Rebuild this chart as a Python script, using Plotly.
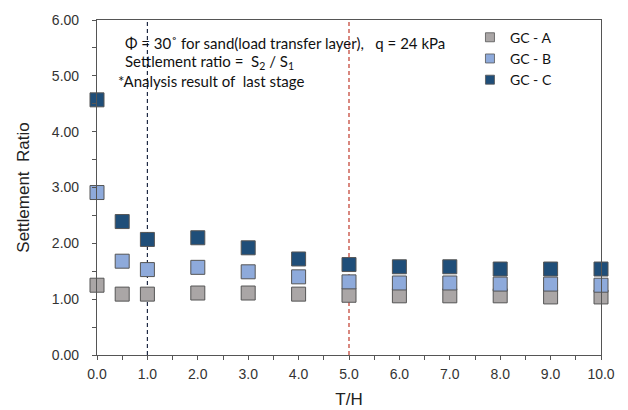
import plotly.graph_objects as go

# T/H positions
th = [0.0, 0.5, 1.0, 2.0, 3.0, 4.0, 5.0, 6.0, 7.0, 8.0, 9.0, 10.0]

# Settlement ratio S2/S1 for each geosynthetic-column case
gc_a = [1.25, 1.09, 1.09, 1.11, 1.11, 1.09, 1.07, 1.06, 1.06, 1.06, 1.04, 1.04]
gc_b = [2.91, 1.68, 1.53, 1.57, 1.49, 1.40, 1.31, 1.29, 1.29, 1.27, 1.27, 1.25]
gc_c = [4.57, 2.39, 2.07, 2.10, 1.92, 1.72, 1.62, 1.58, 1.58, 1.54, 1.54, 1.54]

series_names = ["GC - A", "GC - B", "GC - C"]
series_colors = ["#aaa6a6", "#8eaadb", "#1f4e79"]

y_ticks = [0, 1, 2, 3, 4, 5, 6]
y_tick_text = ["0.00", "1.00", "2.00", "3.00", "4.00", "5.00", "6.00"]
x_ticks = [0, 1, 2, 3, 4, 5, 6, 7, 8, 9, 10]
x_tick_text = ["0.0", "1.0", "2.0", "3.0", "4.0", "5.0", "6.0", "7.0", "8.0", "9.0", "10.0"]

ref_lines = [(1.0, "#1f2a44"), (5.0, "#c0392b")]

TEXT_FONT = "Lato, Open Sans, sans-serif"
AXIS_FONT = "Liberation Sans, Arial, sans-serif"

fig = go.Figure()

# dashed reference lines
for xv, col in ref_lines:
    fig.add_shape(type="line", xref="x", yref="paper", x0=xv, x1=xv, y0=0, y1=1,
                  line=dict(color=col, width=1.2, dash="4px,3px"), layer="below")

# data markers
for name, vals, col in zip(series_names, [gc_a, gc_b, gc_c], series_colors):
    fig.add_trace(go.Scatter(
        x=th, y=vals, mode="markers", name=name, showlegend=False,
        cliponaxis=False,
        marker=dict(symbol="square", size=14, color=col,
                    line=dict(color="#555555", width=1)),
    ))

# legend entries with small swatches
for name, col in zip(series_names, series_colors):
    fig.add_trace(go.Scatter(
        x=[None], y=[None], mode="markers", name=name,
        marker=dict(symbol="square", size=9, color=col,
                    line=dict(color="#555555", width=0.8)),
    ))

notes = [
    (0.52, 5.59, "Φ = 30˚ for sand(load transfer layer),   q = 24 kPa"),
    (0.52, 5.25, "Settlement ratio =  S<sub>2</sub> / S<sub>1</sub>"),
    (0.38, 4.91, "*Analysis result of  last stage"),
]
for xv, yv, txt in notes:
    fig.add_annotation(x=xv, y=yv, xref="x", yref="y", text=txt, showarrow=False,
                       xanchor="left", yanchor="middle",
                       font=dict(family=TEXT_FONT, size=15, color="#111111"))

axis_common = dict(showline=True, linecolor="#555555", linewidth=1.2, mirror=True,
                   ticks="outside", ticklen=4, tickcolor="#555555", showgrid=False,
                   zeroline=False, automargin=False,
                   tickfont=dict(family=AXIS_FONT, size=14, color="#333333"))

fig.update_xaxes(range=[0, 10], tickvals=x_ticks, ticktext=x_tick_text,
                 minor=dict(dtick=0.5, ticks="outside", ticklen=4, tickcolor="#555555"),
                 ticklabelstandoff=2,
                 title=dict(text="T/H", standoff=12,
                            font=dict(family=AXIS_FONT, size=17, color="#222222")),
                 **axis_common)
fig.update_yaxes(range=[0, 6], tickvals=y_ticks, ticktext=y_tick_text,
                 minor=dict(dtick=0.5, ticks="outside", ticklen=4, tickcolor="#555555"),
                 ticklabelstandoff=10,
                 title=dict(text="Settlement  Ratio", standoff=17,
                            font=dict(family=AXIS_FONT, size=17, color="#222222")),
                 **axis_common)

fig.update_layout(
    width=628, height=410,
    margin=dict(l=97, r=27, t=20, b=55, autoexpand=False),
    paper_bgcolor="white", plot_bgcolor="white",
    showlegend=True,
    legend=dict(x=0.74, y=0.995, xanchor="left", yanchor="top",
                bgcolor="rgba(0,0,0,0)", borderwidth=0,
                font=dict(family=TEXT_FONT, size=14, color="#111111"),
                tracegroupgap=0),
)

fig.write_html("out.html")
